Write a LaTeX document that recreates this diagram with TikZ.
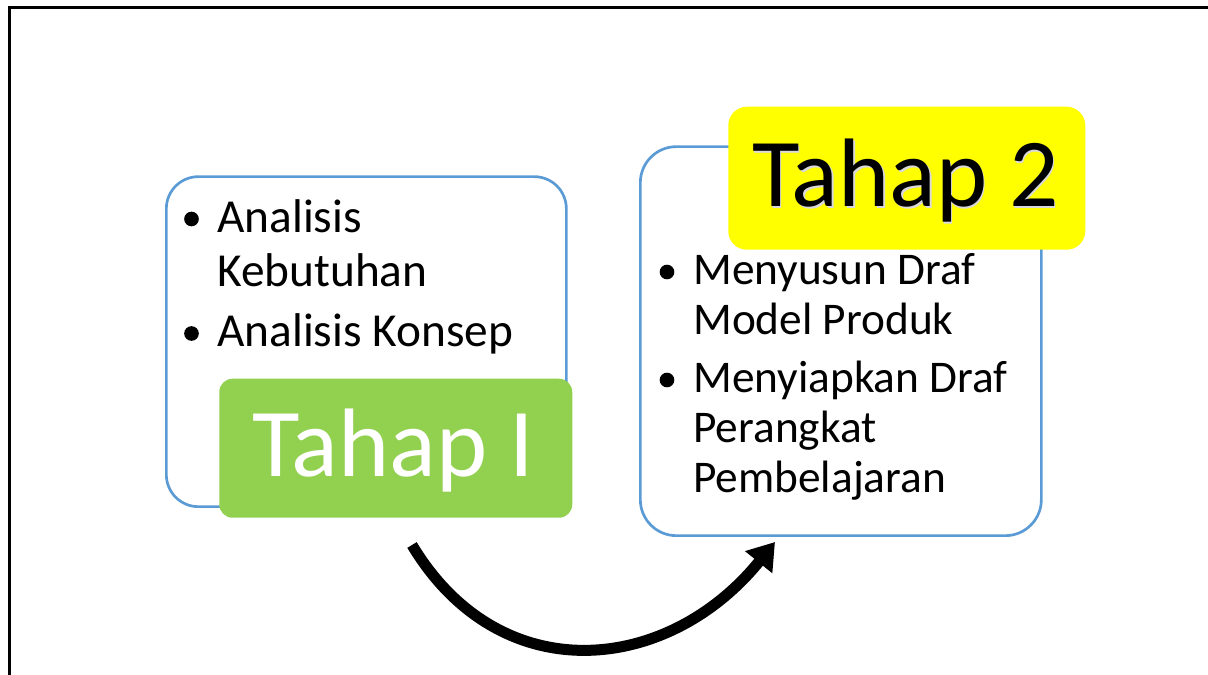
\documentclass[tikz,border=0pt]{standalone}
\usepackage{fontspec}
\setmainfont{Carlito}
\usetikzlibrary{arrows.meta}

\definecolor{panelblue}{HTML}{5B9BD5}
\definecolor{taggreen}{HTML}{92D050}
\definecolor{tagyellow}{HTML}{FFFF00}

\begin{document}
\begin{tikzpicture}[x=0.75pt, y=0.75pt, every node/.style={inner sep=0pt}, panel/.style={draw=panelblue, line width=2pt, fill=white, anchor=south west}, tagbox/.style={anchor=south west}, dot/.style={circle, fill=black, minimum size=11pt}, itemtext/.style={anchor=base west, font=\fontsize{35.5}{42}\selectfont}, itemtextr/.style={anchor=base west, font=\fontsize{34}{40}\selectfont}, tagtext/.style={anchor=base, font=\fontsize{73}{80}\selectfont}]

    \useasboundingbox (0,0) rectangle (1208,675);

    % Frame
    \draw[line width=2.25pt] (9.5,-5) -- (9.5,667) -- (1215,667);

    % Left stage
    \node[panel, rounded corners=24pt, minimum width=300pt, minimum height=247.5pt] (lpanel) at (165,167) {};
    \node[dot] (la) at (191.5,456) {};
    \node[itemtext] (lat) at (217,442) {Analisis};
    \node[itemtext] (lbt) at (217,388) {Kebutuhan};
    \node[dot] (lc) at (191.5,341.5) {};
    \node[itemtext] (lct) at (217,328) {Analisis Konsep};
    \node[tagbox, fill=taggreen, rounded corners=10pt, minimum width=264.75pt, minimum height=104.25pt] (ltag) at (219,157) {};
    \node[tagtext, text=white] (ltagtext) at (393,198) {Tahap I};

    % Right stage
    \node[panel, rounded corners=27pt, minimum width=300.75pt, minimum height=291.75pt] (rpanel) at (639,138) {};
    \node[tagbox, fill=tagyellow, rounded corners=14pt, minimum width=267.75pt, minimum height=107.25pt] (rtag) at (728,425) {};
    \node[tagtext, text=black!15] (rtagshadow) at (907,466.5) {Tahap 2};
    \node[tagtext, text=black] (rtagtext) at (905.5,468) {Tahap 2};
    \node[dot] (ra) at (667,403) {};
    \node[itemtextr] (rat) at (693,390) {Menyusun Draf};
    \node[itemtextr] (rbt) at (693,340) {Model Produk};
    \node[dot] (rc) at (667,295) {};
    \node[itemtextr] (rct) at (693,282) {Menyiapkan Draf};
    \node[itemtextr] (rdt) at (693,232) {Perangkat};
    \node[itemtextr] (ret) at (693,182) {Pembelajaran};

    % Arrow
    \coordinate (arcstart) at (412,130);
    \coordinate (arcend) at (775,133);
    \draw[line width=8.25pt, -{Triangle[length=19.5pt, width=25pt]}] (arcstart) to[out=-59, in=231, looseness=1.2] (arcend);

\end{tikzpicture}
\end{document}
